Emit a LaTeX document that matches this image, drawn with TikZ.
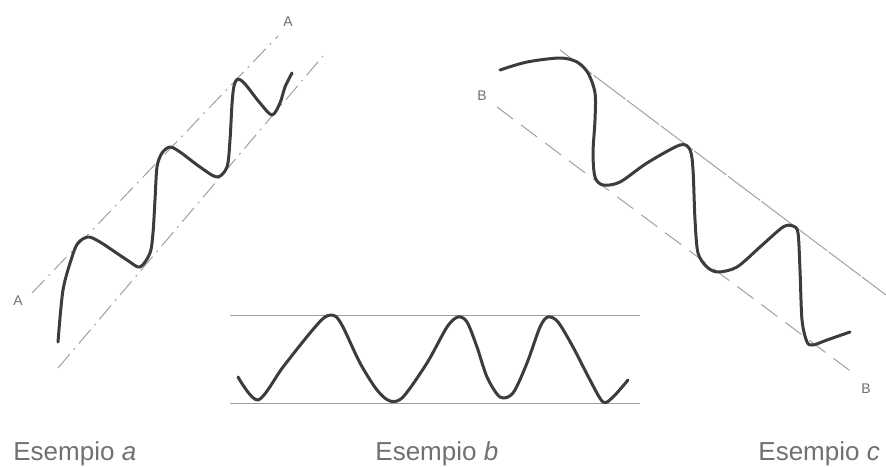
\documentclass[tikz,border=0pt]{standalone}
\usepackage{fontspec}
\setmainfont{Liberation Sans}
\usepackage{xcolor}
\usepackage{tikz}

\definecolor{inkgray}{HTML}{3C3C3C}
\definecolor{guidegray}{HTML}{A0A0A0}
\definecolor{textgray}{HTML}{707070}

\begin{document}
\begin{tikzpicture}[
  x=0.5pt, y=-0.5pt,
  wave/.style={draw=inkgray, line width=1.5pt, line cap=round, line join=round},
  guide/.style={draw=guidegray, line width=0.5pt},
  dashdotline/.style={guide, dash pattern=on 9pt off 3pt on 1pt off 3pt},
  longdash/.style={guide, dash pattern=on 10pt off 5pt},
  tag/.style={font=\fontsize{7}{8}\selectfont, text=textgray, inner sep=0pt},
  esempio/.style={font=\fontsize{13}{15}\selectfont, text=textgray, inner sep=0pt, anchor=base west}
]
\useasboundingbox (0,0) rectangle (886,466);

% esempio a
\coordinate (a1s) at (32,293);
\coordinate (a1e) at (278,36);
\coordinate (a2s) at (58,368);
\coordinate (a2e) at (323,56);
\draw[dashdotline] (a1s) -- (a1e);
\draw[dashdotline] (a2s) -- (a2e);
\node[tag] (tagAlow) at (18,301) {A};
\node[tag] (tagAup) at (288,22) {A};
\draw[wave] plot[smooth, tension=0.5] coordinates {
  (58,342) (63,290) (72,257) (78,243) (88,237) (100,242) (127,260) (140,267)
  (150,253) (153,233) (155,200) (157,167) (162,153) (170,147) (180,152)
  (200,167) (217,177) (227,167) (230,140) (232,104) (234,86) (238,79)
  (245,84) (260,103) (272,115) (280,103) (285,87) (292,73)};

% esempio b
\coordinate (b1s) at (230,315);
\coordinate (b1e) at (640,315);
\coordinate (b2s) at (230,403);
\coordinate (b2e) at (640,403);
\draw[guide] (b1s) -- (b1e);
\draw[guide] (b2s) -- (b2e);
\draw[wave] plot[smooth, tension=0.5] coordinates {
  (238,377) (258,400) (283,367) (310,333) (325,317) (335,316) (343,327)
  (360,363) (377,390) (390,401) (403,397) (427,363) (447,327) (458,317)
  (467,322) (477,347) (487,377) (500,397) (513,393) (527,363) (540,327)
  (548,317) (558,322) (573,347) (590,380) (603,402) (613,397) (628,380)};

% esempio c
\coordinate (c1s) at (560,50);
\coordinate (c1e) at (886,295);
\coordinate (c2s) at (497,107);
\coordinate (c2e) at (853,373);
\draw[guide, dash pattern=on 20pt off 1pt] (c1s) -- (c1e);
\draw[longdash] (c2s) -- (c2e);
\node[tag] (tagBup) at (482,96) {B};
\node[tag] (tagBlow) at (866,389) {B};
\draw[wave] plot[smooth, tension=0.5] coordinates {
  (500,70) (527,62) (560,58) (577,62) (588,73) (595,93) (595,120) (593,153)
  (595,177) (603,185) (620,182) (647,163) (680,145) (690,150) (693,170)
  (695,220) (698,253) (707,267) (718,272) (737,267) (760,247) (783,227)
  (793,226) (798,233) (800,270) (802,320) (807,342) (813,345) (827,340)
  (850,332)};

% captions
\node[esempio] (capa) at (13,460) {Esempio \textit{a}};
\node[esempio] (capb) at (375,460) {Esempio \textit{b}};
\node[esempio] (capc) at (758,460) {Esempio \textit{c}};
\end{tikzpicture}
\end{document}
